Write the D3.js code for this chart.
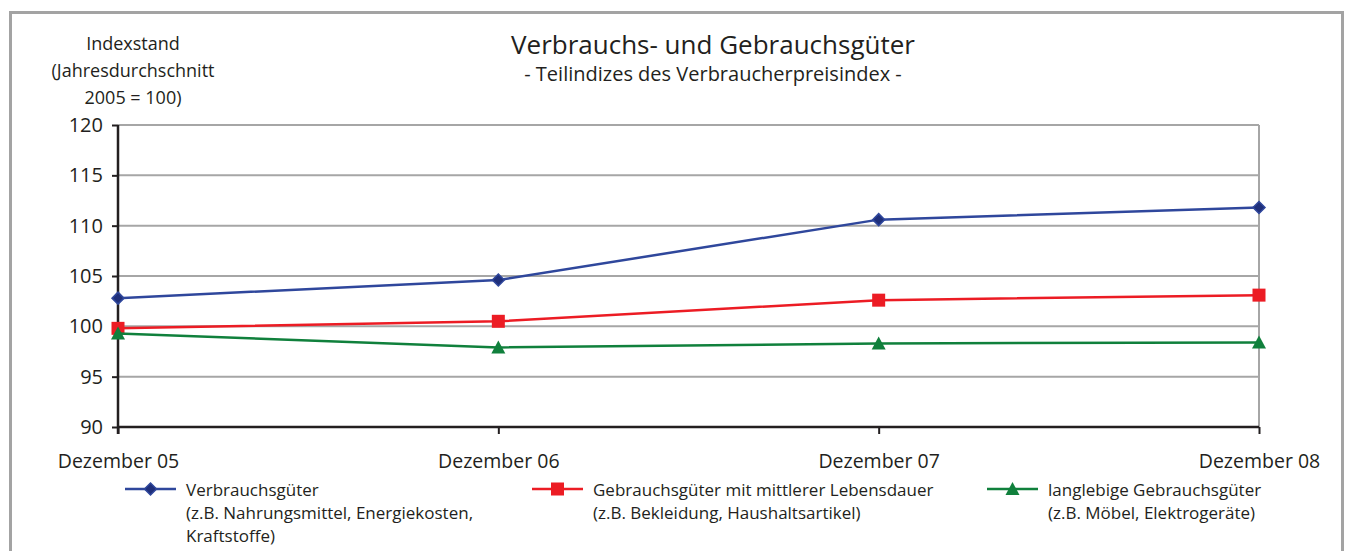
<!DOCTYPE html>
<html>
<head>
  <meta charset="utf-8">
  <title>Verbrauchs- und Gebrauchsgüter</title>
  <script src="https://d3js.org/d3.v7.min.js"></script>
  <style>
    body { margin: 0; background: #fff; font-family: "Open Sans", "Noto Sans", sans-serif; }
  </style>
</head>
<body>
  <div id="chart"></div>
  <script>
    // Daten
    var categories = ["Dezember 05", "Dezember 06", "Dezember 07", "Dezember 08"];
    var verbrauchsgueter = [102.8, 104.6, 110.6, 111.8];
    var gebrauchsMittel = [99.8, 100.5, 102.6, 103.1];
    var langlebig = [99.3, 97.9, 98.3, 98.4];
    var yTicks = [90, 95, 100, 105, 110, 115, 120];

    var series = [
      { values: verbrauchsgueter, color: "#2f479c", marker: "diamond",
        label: ["Verbrauchsgüter", "(z.B. Nahrungsmittel, Energiekosten,", "Kraftstoffe)"] },
      { values: gebrauchsMittel, color: "#ec1c24", marker: "square",
        label: ["Gebrauchsgüter mit mittlerer Lebensdauer", "(z.B. Bekleidung, Haushaltsartikel)"] },
      { values: langlebig, color: "#10803c", marker: "triangle",
        label: ["langlebige Gebrauchsgüter", "(z.B. Möbel, Elektrogeräte)"] }
    ];

    var W = 1349, H = 551;
    var margin = { top: 125, right: 90, bottom: 124, left: 118 };
    var width = W - margin.left - margin.right;
    var height = H - margin.top - margin.bottom;

    var svg = d3.select("#chart").append("svg")
      .attr("width", W).attr("height", H);

    // Rahmen
    svg.append("rect")
      .attr("x", 10.5).attr("y", 12.5)
      .attr("width", 1332).attr("height", 560)
      .attr("fill", "none").attr("stroke", "#a3a3a3").attr("stroke-width", 3);

    var g = svg.append("g").attr("transform", "translate(" + margin.left + "," + margin.top + ")");

    var x = d3.scalePoint().domain(categories).range([0, width]);
    var y = d3.scaleLinear().domain([90, 120]).range([height, 0]);

    // Gitterlinien
    g.selectAll(".grid").data(yTicks.filter(function (d) { return d > 90; }))
      .join("line")
      .attr("x1", 0).attr("x2", width)
      .attr("y1", function (d) { return y(d); }).attr("y2", function (d) { return y(d); })
      .attr("stroke", "#a6a6a6").attr("stroke-width", 2);

    g.append("line")
      .attr("x1", width).attr("x2", width).attr("y1", 0).attr("y2", height)
      .attr("stroke", "#a6a6a6").attr("stroke-width", 2);

    // Achsen
    var yAxis = g.append("g")
      .call(d3.axisLeft(y).tickValues(yTicks).tickSize(6).tickPadding(9));
    yAxis.select(".domain").attr("stroke", "#231f20").attr("stroke-width", 2.5).attr("d", "M0," + (height + 7) + "V0");
    yAxis.selectAll(".tick line").attr("stroke", "#231f20").attr("stroke-width", 2);
    yAxis.selectAll("text").attr("fill", "#231f20").style("font-size", "20px")
      .style("font-family", "'Open Sans', sans-serif");

    var xAxis = g.append("g").attr("transform", "translate(0," + height + ")")
      .call(d3.axisBottom(x).tickSize(7).tickPadding(20));
    xAxis.select(".domain").attr("stroke", "#231f20").attr("stroke-width", 2.5).attr("d", "M0,0H" + width);
    xAxis.selectAll(".tick line").attr("stroke", "#231f20").attr("stroke-width", 2);
    xAxis.selectAll("text").attr("fill", "#231f20").style("font-size", "19.5px")
      .style("font-family", "'Open Sans', sans-serif");

    // Linien und Marker
    function drawMarker(sel, type, color, size) {
      if (type === "diamond") {
        sel.append("path").attr("d", "M0,-" + size + "L" + size + ",0L0," + size + "L-" + size + ",0Z")
          .attr("fill", "#1f2f7a").attr("stroke", color).attr("stroke-width", 1.5);
      } else if (type === "square") {
        sel.append("rect").attr("x", -6.5).attr("y", -6.5).attr("width", 13).attr("height", 13)
          .attr("fill", color);
      } else {
        sel.append("path").attr("d", "M0,-7L7,6L-7,6Z").attr("fill", color);
      }
    }

    var line = d3.line()
      .x(function (d, i) { return x(categories[i]); })
      .y(function (d) { return y(d); });

    series.forEach(function (s) {
      g.append("path").datum(s.values)
        .attr("d", line).attr("fill", "none")
        .attr("stroke", s.color).attr("stroke-width", 2.5);
      s.values.forEach(function (v, i) {
        var m = g.append("g").attr("transform", "translate(" + x(categories[i]) + "," + y(v) + ")");
        drawMarker(m, s.marker, s.color, 6);
      });
    });

    // Titel
    svg.append("text").attr("x", 713).attr("y", 54).attr("text-anchor", "middle")
      .attr("fill", "#231f20").style("font-size", "26px").text("Verbrauchs- und Gebrauchsgüter");
    svg.append("text").attr("x", 713).attr("y", 81).attr("text-anchor", "middle")
      .attr("fill", "#231f20").style("font-size", "20px").text("- Teilindizes des Verbraucherpreisindex -");

    // Achsentitel
    var yTitle = ["Indexstand", "(Jahresdurchschnitt", "2005 = 100)"];
    svg.append("text").attr("text-anchor", "middle").attr("fill", "#231f20").style("font-size", "18px")
      .selectAll("tspan").data(yTitle).join("tspan")
      .attr("x", 133).attr("y", function (d, i) { return 50 + i * 27; })
      .text(function (d) { return d; });

    // Legende
    var legendX = [125, 532, 987];
    series.forEach(function (s, k) {
      var lg = svg.append("g").attr("transform", "translate(" + legendX[k] + ",489)");
      lg.append("line").attr("x1", 0).attr("x2", 51).attr("y1", 0).attr("y2", 0)
        .attr("stroke", s.color).attr("stroke-width", 2.5);
      var m = lg.append("g").attr("transform", "translate(25.5,0)");
      drawMarker(m, s.marker, s.color, 6);
      lg.append("text").attr("fill", "#231f20").style("font-size", "17px")
        .selectAll("tspan").data(s.label).join("tspan")
        .attr("x", 61).attr("y", function (d, i) { return 7 + i * 23; })
        .text(function (d) { return d; });
    });
  </script>
</body>
</html>
